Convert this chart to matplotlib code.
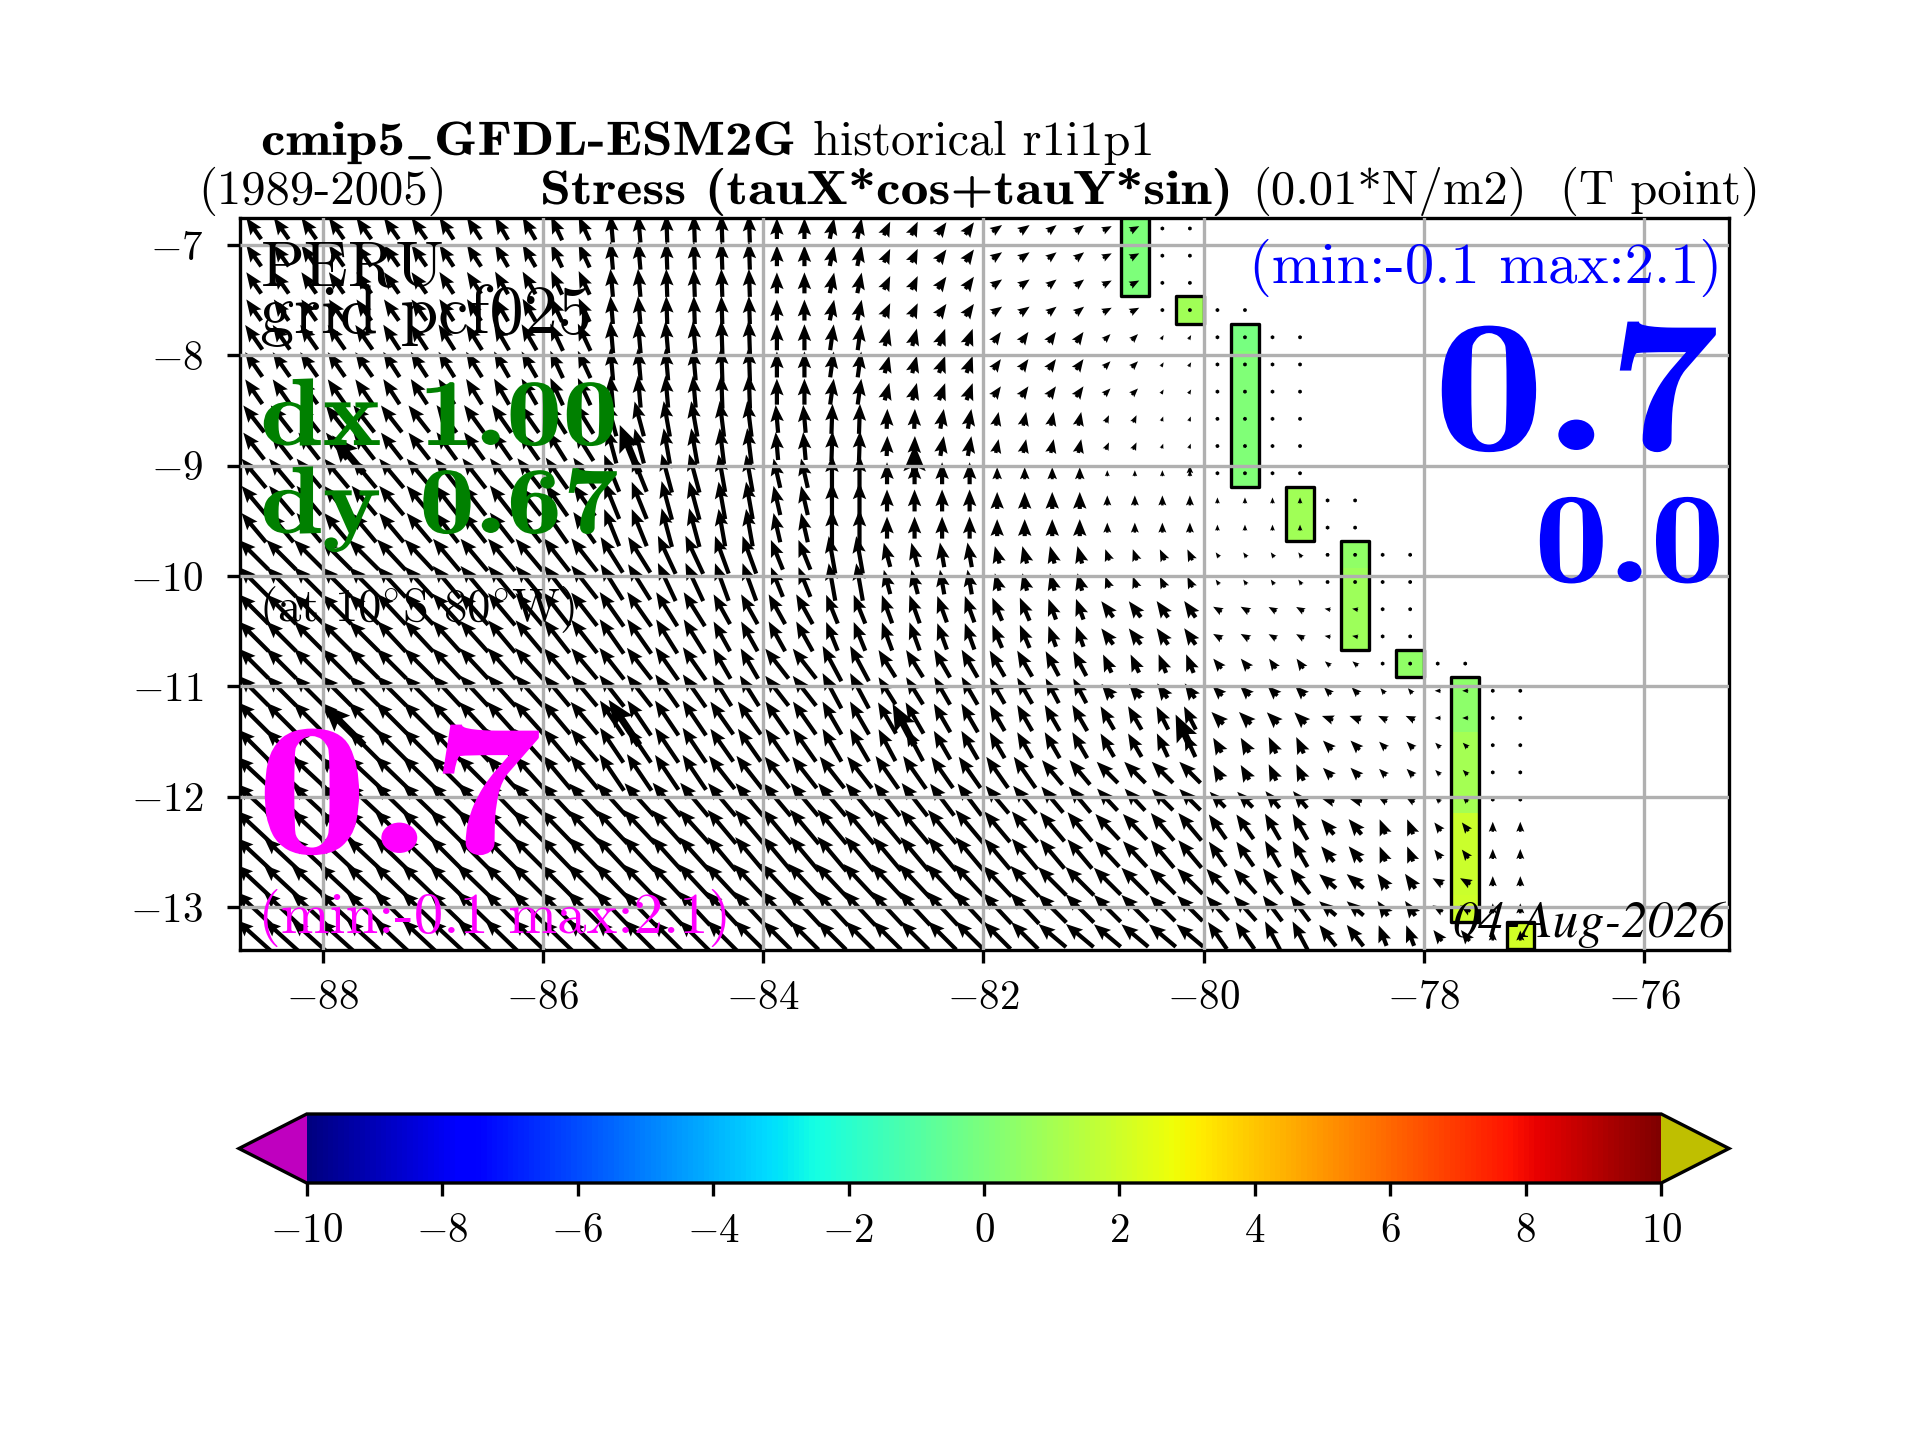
import warnings
import logging
import numpy as np
import matplotlib
matplotlib.use("Agg")
import matplotlib.pyplot as plt
from matplotlib.patches import Rectangle
from matplotlib.patheffects import AbstractPathEffect
from matplotlib.transforms import Affine2D

logging.getLogger("matplotlib.mathtext").setLevel(logging.ERROR)
warnings.filterwarnings("ignore")

plt.rcParams["font.family"] = ["cmr10", "DejaVu Sans"]
plt.rcParams["mathtext.fontset"] = "cm"
plt.rcParams["axes.formatter.use_mathtext"] = True
plt.rcParams["axes.unicode_minus"] = True
plt.rcParams["font.size"] = 12
plt.rcParams["axes.linewidth"] = 1.0

# ---- grid of the vector field (degrees)
LON_START, LON_STEP, N_LON = -88.625, 0.25, 47
LAT_START, LAT_STEP, N_LAT = -6.85, -0.2465, 27

# ---- rows that share one model cell, with half-degree column blocks (from 89W)
ROW_GROUPS = [[0, 1, 2, 3], [4, 5, 6], [7, 8], [9], [10, 11], [12, 13], [14, 15], [16], [17],
              [18], [19], [20], [21], [22, 23], [24, 25], [26]]
SPEED = [
    [26, 26, 26, 26, 26, 26, 26, 28, 28, 28, 21, 21, 15, 15, 12, 11, 10, 4, 1],
    [30, 30, 30, 30, 30, 30, 30, 32, 32, 34, 26, 26, 18, 18, 13, 13, 9, 5, 1, 1],
    [34, 34, 34, 34, 34, 34, 35, 36, 36, 36, 28, 30, 20, 20, 14, 14, 8, 5, 2, 1],
    [38, 38, 38, 38, 38, 38, 38, 40, 40, 38, 30, 36, 22, 22, 12, 12, 6, 6, 3, 3],
    [38, 38, 38, 38, 38, 38, 38, 40, 40, 38, 30, 36, 22, 22, 17, 17, 10, 10, 6, 6, 1],
    [42, 42, 42, 42, 42, 42, 42, 42, 42, 40, 32, 38, 25, 25, 18, 18, 12, 12, 6, 6, 4, 1],
    [42, 42, 42, 42, 42, 42, 42, 42, 40, 34, 34, 31, 30, 28, 25, 22, 20, 20, 10, 9, 6, 1],
    [42, 42, 42, 42, 42, 42, 40, 40, 40, 35, 38, 40, 32, 32, 30, 28, 20, 20, 13, 12, 7, 4, 1],
    [42, 42, 42, 42, 42, 42, 40, 40, 40, 36, 38, 40, 32, 32, 30, 28, 18, 18, 14, 14, 10, 7, 6, 1],
    [44, 44, 44, 44, 44, 44, 42, 42, 42, 40, 40, 38, 36, 33, 30, 30, 27, 26, 17, 16, 12, 10, 6, 1],
    [44, 44, 44, 44, 44, 44, 42, 42, 42, 40, 40, 38, 36, 33, 30, 30, 27, 26, 17, 18, 13, 10, 7, 3],
    [46, 46, 46, 46, 46, 44, 44, 44, 42, 42, 40, 40, 40, 38, 38, 32, 30, 30, 17, 18, 13, 10, 7, 3],
    [46, 46, 46, 46, 46, 46, 44, 44, 44, 43, 43, 43, 42, 40, 36, 34, 30, 30, 22, 22, 14, 10, 7, 2],
    [47, 47, 47, 47, 47, 46, 46, 46, 45, 44, 45, 45, 44, 44, 40, 38, 35, 36, 30, 30, 20, 16, 11, 10],
    [48, 48, 48, 48, 48, 47, 47, 47, 46, 46, 48, 47, 46, 46, 42, 40, 38, 36, 33, 32, 22, 18, 12, 10],
    [46, 46, 46, 46, 46, 46, 44, 44, 42, 42, 40, 40, 40, 40, 38, 36, 35, 35, 33, 32, 27, 22, 14, 10],
]
ANGLE = [
    [125, 125, 125, 125, 123, 120, 115, 95, 92, 92, 90, 78, 65, 55, 35, 38, 28, 90, 90],
    [125, 125, 125, 123, 122, 120, 115, 95, 95, 92, 90, 82, 75, 70, 55, 55, 45, 60, 90, 90],
    [128, 128, 128, 128, 126, 125, 122, 105, 100, 97, 95, 88, 88, 80, 78, 78, 65, 70, 45, 90],
    [130, 130, 130, 130, 128, 128, 125, 112, 105, 100, 103, 90, 90, 90, 90, 90, 90, 90, 90, 90],
    [130, 130, 130, 130, 128, 128, 125, 112, 105, 100, 103, 90, 90, 90, 90, 90, 90, 90, 90, 90, 90],
    [135, 135, 135, 133, 130, 130, 128, 122, 115, 110, 112, 100, 105, 100, 105, 105, 110, 115, 125, 125, 180, 90],
    [135, 135, 135, 133, 132, 130, 128, 125, 122, 119, 119, 112, 110, 110, 113, 110, 127, 125, 150, 150, 170, 90],
    [135, 135, 135, 135, 133, 132, 130, 128, 125, 120, 128, 118, 122, 120, 120, 118, 115, 112, 130, 125, 140, 90, 90],
    [135, 135, 135, 135, 133, 132, 130, 128, 125, 122, 128, 118, 122, 120, 120, 118, 130, 125, 135, 135, 135, 130, 180, 90],
    [135, 135, 135, 135, 133, 132, 130, 124, 124, 125, 125, 120, 120, 120, 120, 120, 120, 117, 135, 135, 160, 155, 180, 90],
    [135, 135, 135, 135, 133, 132, 130, 124, 124, 125, 125, 120, 118, 120, 120, 120, 120, 115, 120, 115, 135, 135, 135, 90],
    [137, 137, 137, 136, 135, 132, 130, 124, 124, 128, 128, 128, 125, 125, 125, 130, 135, 135, 120, 115, 135, 135, 135, 90],
    [137, 137, 137, 136, 135, 134, 133, 132, 130, 130, 130, 130, 128, 127, 130, 130, 133, 135, 135, 130, 165, 150, 135, 90],
    [137, 137, 137, 136, 135, 135, 134, 133, 132, 130, 130, 130, 130, 130, 130, 130, 133, 130, 125, 120, 130, 112, 128, 90],
    [137, 137, 137, 136, 136, 135, 135, 134, 133, 133, 133, 133, 133, 133, 133, 135, 135, 135, 132, 127, 140, 125, 150, 90],
    [138, 138, 138, 137, 137, 136, 136, 135, 135, 135, 135, 135, 135, 135, 135, 140, 140, 140, 125, 118, 128, 111, 128, 90],
]
# last half-degree block that is ocean, for every row
LAST_BLOCK = [17, 17, 17, 18, 19, 19, 19, 19, 19, 19, 20, 20, 21, 21, 21, 21, 22,
              23, 23, 23, 23, 23, 23, 23, 23, 23, 23]
# arrows drawn again with a heavier head
HEAVY_ROWS = [9, 19]
HEAVY_COLS = [4, 14, 24, 34]

# ---- coloured coastal cells
CELL_LONS = [-80.625, -80.125, -79.625, -79.125, -78.625, -78.125, -77.625, -77.125]
CELL_ROWS = [[0, 1, 2], [3], [4, 5, 6, 7, 8, 9], [10, 11], [12, 13, 14, 15], [16],
             [17, 18, 19, 20, 21, 22, 23, 24, 25], [26]]
CELL_VALUES = [[0.0, 0.0, 0.0], [0.9], [-0.1, 0.1, 0.1, 0.1, 0.1, 0.1], [0.9, 0.9],
               [0.5, 0.8, 0.8, 0.8], [0.5], [0.4, 0.4, 1.0, 1.0, 1.0, 1.9, 1.9, 1.9, 2.0], [2.1]]

XTICKS = [-88, -86, -84, -82, -80, -78, -76]
YTICKS = [-7, -8, -9, -10, -11, -12, -13]
CBAR_TICKS = [-10, -8, -6, -4, -2, 0, 2, 4, 6, 8, 10]

W, H = 1920, 1440


def fx(px):
    return px / W


def fy(px):
    return 1 - px / H


class WideText(AbstractPathEffect):
    """Draw a text wider, from its left end: stands in for the extended bold Computer Modern."""

    def __init__(self, factor):
        super().__init__()
        self.factor = factor

    def draw_path(self, renderer, gc, tpath, affine, rgbFace=None):
        renderer.draw_path(gc, tpath, Affine2D().scale(self.factor, 1.0) + affine, rgbFace)


lons = LON_START + LON_STEP * np.arange(N_LON)
lats = LAT_START + LAT_STEP * np.arange(N_LAT)
speed = np.full((N_LAT, N_LON), np.nan)
angle = np.full((N_LAT, N_LON), np.nan)
for group, sp, an in zip(ROW_GROUPS, SPEED, ANGLE):
    for i in group:
        for j, lon in enumerate(lons):
            b = int(np.floor((lon + 89.0) / 0.5))
            if b <= LAST_BLOCK[i] and b < len(sp):
                speed[i, j] = sp[b]
                angle[i, j] = an[b]
u = speed * np.cos(np.radians(angle))
v = speed * np.sin(np.radians(angle))

lon_edges = np.concatenate([lons - LON_STEP / 2, [lons[-1] + LON_STEP / 2]])
lat_edges = np.concatenate([lats - LAT_STEP / 2, [lats[-1] + LAT_STEP / 2]])
field = np.full((N_LAT, N_LON), np.nan)
for lon, rows, vals in zip(CELL_LONS, CELL_ROWS, CELL_VALUES):
    j = int(round((lon - LON_START) / LON_STEP))
    for i, val in zip(rows, vals):
        field[i, j] = val

fig = plt.figure(figsize=(8, 6), dpi=240)
ax = fig.add_axes([fx(240), fy(950), fx(1729) - fx(240), fy(218) - fy(950)])
cmap = plt.get_cmap("jet").with_extremes(under=(0.75, 0, 0.75), over=(0.75, 0.75, 0))
mesh = ax.pcolormesh(lon_edges, lat_edges, np.ma.masked_invalid(field), cmap=cmap,
                     vmin=-10, vmax=10, zorder=1)
for lon, rows in zip(CELL_LONS, CELL_ROWS):
    top = lat_edges[rows[0]]
    bottom = lat_edges[rows[-1] + 1]
    ax.add_patch(Rectangle((lon - LON_STEP / 2, bottom), LON_STEP, top - bottom, fill=False,
                           ec="black", lw=1.0, joinstyle="round", zorder=1.2))

mask = ~np.isnan(speed)
X, Y = np.meshgrid(lons, lats)
ax.quiver(X[mask], Y[mask], u[mask], v[mask], angles="uv", scale_units="dots", scale=1.0,
          units="dots", width=4.2, headwidth=3.2, headlength=4.0, headaxislength=3.5,
          pivot="mid", color="black", zorder=2)
hx, hy, hu, hv = [], [], [], []
for i in HEAVY_ROWS:
    for j in HEAVY_COLS:
        hx.append(lons[j]); hy.append(lats[i]); hu.append(u[i, j]); hv.append(v[i, j])
ax.quiver(hx, hy, hu, hv, angles="uv", scale_units="dots", scale=1 / 1.3,
          units="dots", width=7.0, headwidth=3.2, headlength=3.8, headaxislength=3.3,
          pivot="tail", color="black", zorder=2)

ax.set_xlim(-88.75, -75.23)
ax.set_ylim(-13.39, -6.755)
ax.set_xticks(XTICKS)
ax.set_yticks(YTICKS)
ax.grid(True, color="#b0b0b0", lw=1.0)
ax.set_axisbelow(False)
ax.tick_params(width=1.0, length=4, labelsize=12.3)
ax.tick_params(axis="x", pad=5)
ax.tick_params(axis="y", pad=7)

cax = fig.add_axes([fx(239), fy(1183), fx(1729) - fx(239), fy(1114) - fy(1183)])
cb = fig.colorbar(mesh, cax=cax, orientation="horizontal", extend="both", ticks=CBAR_TICKS)
cb.outline.set_linewidth(1.0)
cax.tick_params(width=1.0, length=4, labelsize=12.3, pad=5)

R, B = "cmr10", "cmb10"


def put(px, py, s, family=R, size=14.6, color="black", ha="left", wide=None, **kw):
    t = fig.text(fx(px), fy(py), s, family=family, fontsize=size, color=color, ha=ha,
                 va="baseline", zorder=5, **kw)
    if wide:
        t.set_path_effects([WideText(wide)])
    return t


put(261, 155, r"cmip5$\_$GFDL-ESM2G", B, 14.4, wide=1.15)
put(813, 155, "historical r1i1p1", R, 14.5)
put(198, 204, "(1989-2005)", R, 14.6)
put(540, 204, "Stress (tauX*cos+tauY*sin)", B, 14.4, wide=1.16)
put(1252, 204, "(0.01*N/m2)", R, 14.6)
put(1560, 204, "(T point)", R, 14.6)

put(261, 285, "PERU", R, 19.4)
put(260, 333, "grid pcf025", R, 20.5)
put(260, 445, "dx 1.00", B, 28.8, "green", wide=1.17)
put(260, 533, "dy 0.67", B, 28.8, "green", wide=1.17)
put(259, 621, r"(at 10$^{\circ}$S 80$^{\circ}$W)", R, 14.0)
put(256, 853, "0.7", B, 57, "magenta", wide=1.18)
put(258, 933, "(min:-0.1 max:2.1)", R, 17.6, "magenta")
put(1722, 283, "(min:-0.1 max:2.1)", R, 17.6, "blue", ha="right")
put(1433, 450, "0.7", B, 57, "blue", wide=1.18)
put(1534, 582, "0.0", B, 39, "blue", wide=1.15)
put(1725, 937, "04-Aug-2026", "STIXGeneral", 15.5, ha="right", style="italic")

fig.savefig("out.png", dpi=240)
